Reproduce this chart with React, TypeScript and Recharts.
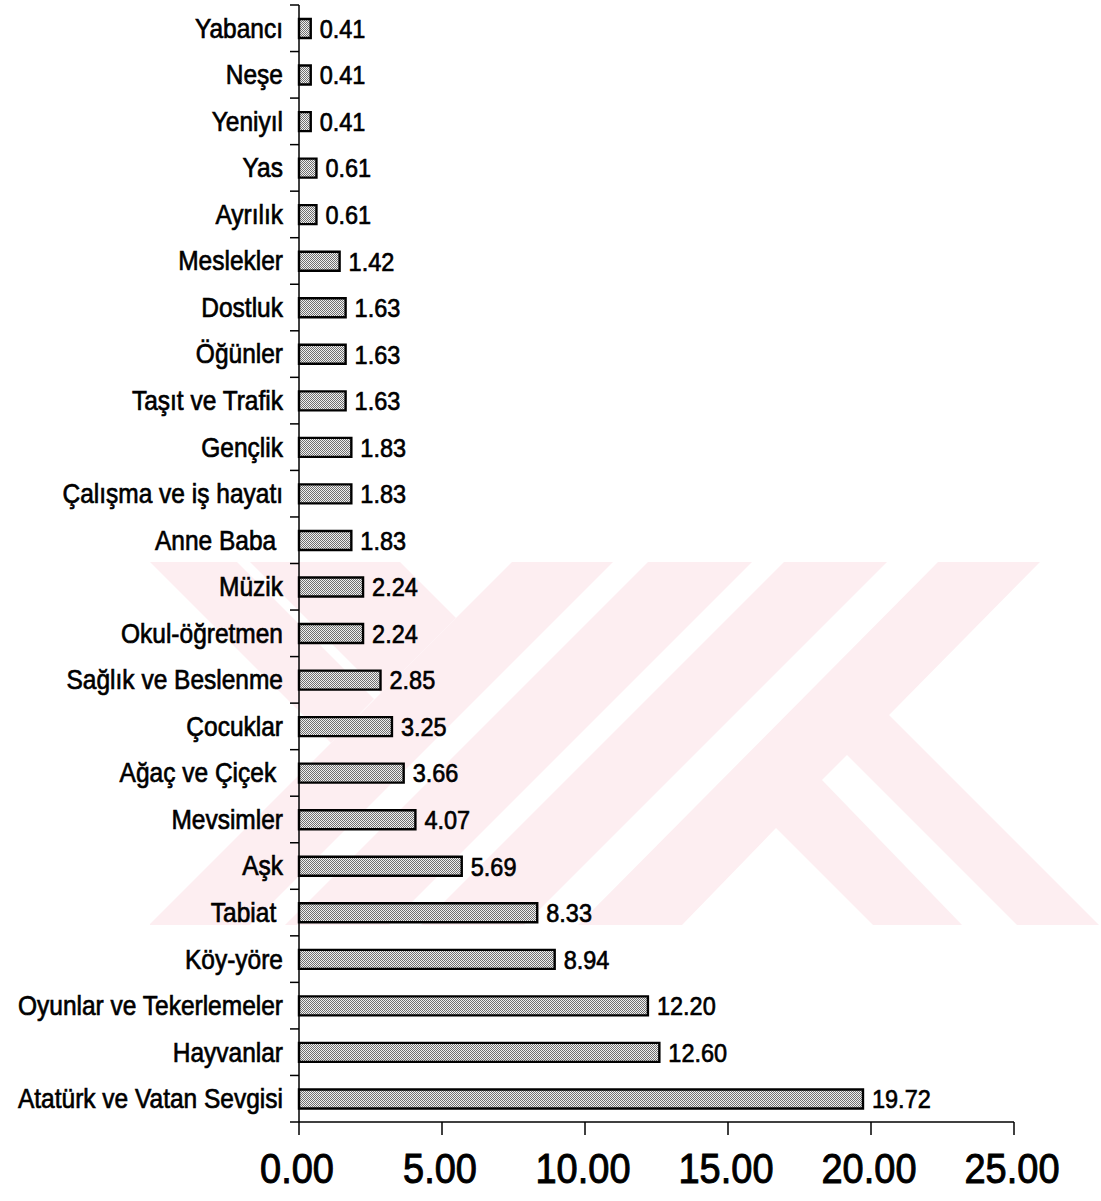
import { BarChart, Bar, XAxis, YAxis, LabelList } from 'recharts';

const categories = [
  'Yabancı',
  'Neşe',
  'Yeniyıl',
  'Yas',
  'Ayrılık',
  'Meslekler',
  'Dostluk',
  'Öğünler',
  'Taşıt ve Trafik',
  'Gençlik',
  'Çalışma ve iş hayatı',
  'Anne Baba\u00a0',
  'Müzik',
  'Okul-öğretmen',
  'Sağlık ve Beslenme',
  'Çocuklar',
  'Ağaç ve Çiçek\u00a0',
  'Mevsimler',
  'Aşk',
  'Tabiat\u00a0',
  'Köy-yöre',
  'Oyunlar ve Tekerlemeler',
  'Hayvanlar',
  'Atatürk ve Vatan Sevgisi',
];

const values = [
  0.41, 0.41, 0.41, 0.61, 0.61, 1.42, 1.63, 1.63, 1.63, 1.83, 1.83, 1.83,
  2.24, 2.24, 2.85, 3.25, 3.66, 4.07, 5.69, 8.33, 8.94, 12.2, 12.6, 19.72,
];

const xTicks = [0, 5, 10, 15, 20, 25];

const data = categories.map((name, i) => ({ name, value: values[i] }));

const W = 1101;
const H = 1201;
const TOP = 5;
const RIGHT = 87;
const Y_AXIS_W = 299;
const X_AXIS_H = 79;
const band = (H - TOP - X_AXIS_H) / categories.length;
const FONT = '"Liberation Sans", Arial, Helvetica, sans-serif';

// etiket + kategori sınırlarındaki tik çizgileri
const CategoryTick = (props: any) => {
  const { x, y, payload } = props;
  const isLast = payload.value === categories[categories.length - 1];
  return (
    <g>
      <line x1={x - 9} x2={x} y1={y - band / 2} y2={y - band / 2} stroke="#000" strokeWidth={1.5} />
      {isLast && (
        <line x1={x - 9} x2={x} y1={y + band / 2} y2={y + band / 2} stroke="#000" strokeWidth={1.5} />
      )}
      <text
        transform={`translate(${x - 16},${y}) scale(1,1.1)`}
        textAnchor="end"
        dy="0.35em"
        fontSize={24.5}
        fontFamily={FONT}
        fill="#000"
        stroke="#000"
        strokeWidth={0.6}
      >
        {payload.value}
      </text>
    </g>
  );
};

const ValueTick = (props: any) => {
  const { x, y, payload } = props;
  return (
    <text
      transform={`translate(${x - 2},${y + 33}) scale(1,1.12)`}
      textAnchor="middle"
      dy="0.36em"
      fontSize={38}
      fontFamily={FONT}
      fill="#000"
      stroke="#000"
      strokeWidth={0.9}
    >
      {Number(payload.value).toFixed(2)}
    </text>
  );
};

const ValueLabel = (props: any) => {
  const { x, y, width, height, value } = props;
  return (
    <text
      transform={`translate(${Number(x) + Number(width) + 9},${Number(y) + Number(height) / 2}) scale(1,1.1)`}
      dy="0.36em"
      fontSize={23.5}
      fontFamily={FONT}
      fill="#000"
      stroke="#000"
      strokeWidth={0.6}
    >
      {Number(value).toFixed(2)}
    </text>
  );
};

// soluk pembe filigran (taranmış sayfadaki)
const Watermark = () => (
  <svg width={W} height={H} style={{ position: 'absolute', left: 0, top: 0 }}>
    <defs>
      <pattern id="dots" width="2" height="2" patternUnits="userSpaceOnUse">
        <rect width="2" height="2" fill="#f0f0f0" />
        <rect width="1" height="1" fill="#707070" />
        <rect x="1" y="1" width="1" height="1" fill="#707070" />
      </pattern>
      <clipPath id="wmClip">
        <rect x="150" y="562" width="951" height="363" />
      </clipPath>
    </defs>
    <g clipPath="url(#wmClip)" fill="#fdeef1">
      <polygon points="150,562 237,562 374,699 331,743" />
      <polygon points="250,562 400,562 456,618 381,693" />
      <polygon points="512,562 613,562 250,925 149,925" />
      <polygon points="648,562 752,562 389,925 285,925" />
      <polygon points="784,562 887,562 524,925 421,925" />
      <polygon points="938,562 1040,562 682,925 578,925" />
      <polygon points="888,714 1099,925 679,925" />
      <polygon points="776,828 682,925 873,925" fill="#fff" />
      <polygon points="822,780 847,755 1017,925 962,925" fill="#fff" />
    </g>
  </svg>
);

export default function App() {
  return (
    <div style={{ position: 'relative', width: W, height: H, background: '#fff' }}>
      <style>{'body{margin:0}'}</style>
      <Watermark />
      <div style={{ position: 'absolute', left: 0, top: 0 }}>
        <BarChart
          width={W}
          height={H}
          data={data}
          layout="vertical"
          margin={{ top: TOP, right: RIGHT, left: 0, bottom: 0 }}
        >
          <XAxis
            type="number"
            domain={[0, 25]}
            ticks={xTicks}
            interval={0}
            height={X_AXIS_H}
            tickSize={13}
            tickMargin={0}
            stroke="#000"
            strokeWidth={1.5}
            tick={<ValueTick />}
          />
          <YAxis
            type="category"
            dataKey="name"
            width={Y_AXIS_W}
            interval={0}
            tickSize={0}
            tickMargin={0}
            tickLine={false}
            stroke="#000"
            strokeWidth={1.5}
            tick={<CategoryTick />}
          />
          <Bar
            dataKey="value"
            barSize={19}
            fill="url(#dots)"
            stroke="#000"
            strokeWidth={2.4}
            isAnimationActive={false}
          >
            <LabelList dataKey="value" content={<ValueLabel />} />
          </Bar>
        </BarChart>
      </div>
    </div>
  );
}
